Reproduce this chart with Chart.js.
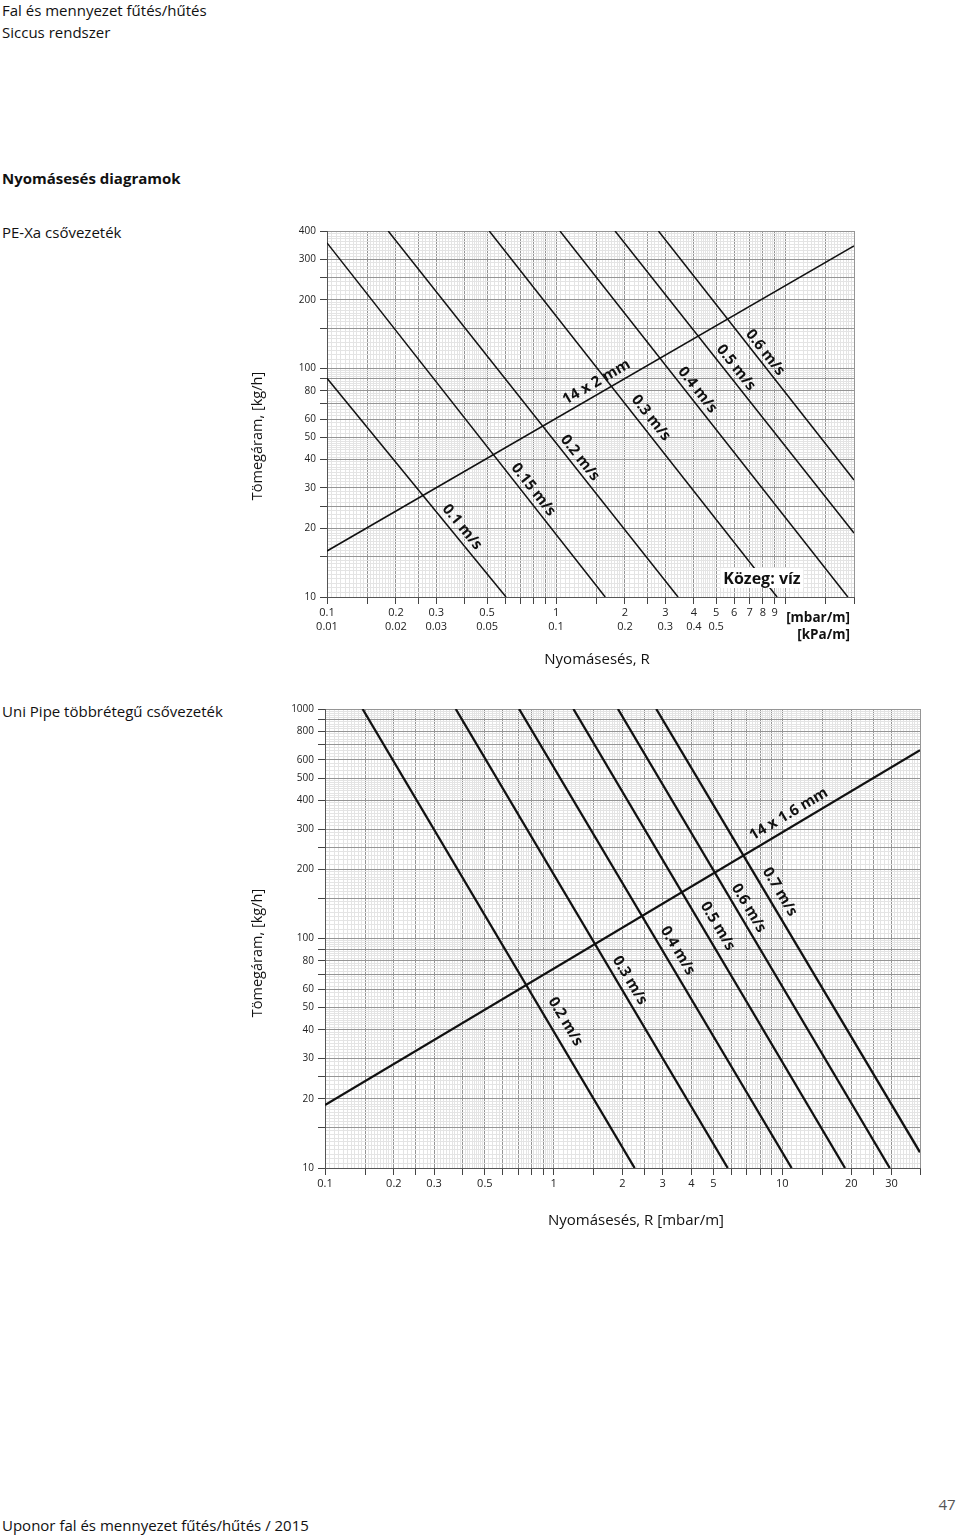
<!DOCTYPE html>
<html>
<head>
<meta charset="utf-8">
<script src="https://cdn.jsdelivr.net/npm/chart.js@4.4.1/dist/chart.umd.min.js"></script>
<style>
  body { margin: 0; background: #fff; font-family: "Open Sans", sans-serif; color: #111; }
  #page { position: relative; width: 960px; height: 1535px; overflow: hidden; }
  .t { position: absolute; white-space: nowrap; font-size: 15px; line-height: 20px; z-index: 2; }
  .c { transform: translate(-50%, -50%); }
  .b { font-weight: bold; }
  .rot { transform: translate(-50%, -50%) rotate(-90deg); }
  canvas { position: absolute; z-index: 1; }
</style>
</head>
<body>
<div id="page">
  <div class="t" style="left:2px;top:0px">Fal és mennyezet fűtés/hűtés</div>
  <div class="t" style="left:2px;top:22px">Siccus rendszer</div>
  <div class="t b" style="left:2px;top:168px">Nyomásesés diagramok</div>
  <div class="t" style="left:2px;top:222px">PE-Xa csővezeték</div>
  <div class="t rot" style="left:257px;top:436px;font-size:14.5px">Tömegáram, [kg/h]</div>
  <div class="t c" style="left:597px;top:658px">Nyomásesés, R</div>
  <div class="t c b" style="left:762px;top:578px;font-size:16px;background:#fff;padding:0 3px">Közeg: víz</div>
  <div class="t b" style="right:110px;top:607px;font-size:13.5px">[mbar/m]</div>
  <div class="t b" style="right:110px;top:624px;font-size:13.5px">[kPa/m]</div>

  <div class="t" style="left:2px;top:701px">Uni Pipe többrétegű csővezeték</div>
  <div class="t rot" style="left:257px;top:953px;font-size:14.5px">Tömegáram, [kg/h]</div>
  <div class="t c" style="left:636px;top:1219px">Nyomásesés, R [mbar/m]</div>

  <div class="t" style="left:2px;top:1515px">Uponor fal és mennyezet fűtés/hűtés / 2015</div>
  <div class="t c" style="left:947px;top:1504px;color:#555">47</div>

  <canvas id="peChart" width="620" height="460" style="left:260px;top:200px"></canvas>
  <canvas id="uniChart" width="680" height="520" style="left:260px;top:690px"></canvas>
</div>

<script>
// PE-Xa 14 x 2 mm: constant-velocity lines, given by their two end points (R in mbar/m, mass flow in kg/h)
const peVelocities = ['0.1 m/s', '0.15 m/s', '0.2 m/s', '0.3 m/s', '0.4 m/s', '0.5 m/s', '0.6 m/s'];
const peStartR = [0.1, 0.1, 0.185, 0.511, 1.04, 1.81, 2.80];
const peStartM = [90.6, 355, 400, 400, 400, 400, 400];
const peEndR = [0.605, 1.64, 3.41, 9.23, 18.8, 20, 20];
const peEndM = [10, 10, 10, 10, 10, 19.05, 32.5];
const pePipe = '14 x 2 mm';
const pePipeR = [0.1, 20];
const pePipeM = [15.9, 344];

const peXTicks = [0.1, 0.2, 0.3, 0.5, 1, 2, 3, 4, 5, 6, 7, 8, 9];
const peXLabels = ['0.1', '0.2', '0.3', '0.5', '1', '2', '3', '4', '5', '6', '7', '8', '9'];
const peXLabelsKpa = ['0.01', '0.02', '0.03', '0.05', '0.1', '0.2', '0.3', '0.4', '0.5', '', '', '', ''];
const peYTicks = [10, 20, 30, 40, 50, 60, 80, 100, 200, 300, 400];

// Uni Pipe 14 x 1.6 mm
const uniVelocities = ['0.2 m/s', '0.3 m/s', '0.4 m/s', '0.5 m/s', '0.6 m/s', '0.7 m/s'];
const uniStartR = [0.146, 0.373, 0.706, 1.22, 1.91, 2.81];
const uniStartM = [1000, 1000, 1000, 1000, 1000, 1000];
const uniEndR = [2.26, 5.77, 10.98, 18.8, 29.5, 40];
const uniEndM = [10, 10, 10, 10, 10, 11.7];
const uniPipe = '14 x 1.6 mm';
const uniPipeR = [0.1, 40];
const uniPipeM = [18.8, 662];

const uniXTicks = [0.1, 0.2, 0.3, 0.5, 1, 2, 3, 4, 5, 10, 20, 30];
const uniXLabels = ['0.1', '0.2', '0.3', '0.5', '1', '2', '3', '4', '5', '10', '20', '30'];
const uniYTicks = [10, 20, 30, 40, 50, 60, 80, 100, 200, 300, 400, 500, 600, 800, 1000];

// grid: darker lines at these multiples of each decade, light lines in between
const MAJOR = [1, 1.5, 2, 2.5, 3, 4, 5, 6, 7, 8, 9];

function fineSteps() {
  const out = [];
  for (let k = 1; k < 2 - 1e-9; k += 0.05) out.push(+k.toFixed(2));
  for (let k = 2; k < 5 - 1e-9; k += 0.1) out.push(+k.toFixed(2));
  for (let k = 5; k < 10 - 1e-9; k += 0.2) out.push(+k.toFixed(2));
  return out;
}
const FINE = fineSteps();

function gridValues(min, max) {
  const vals = [];
  let dec = Math.pow(10, Math.floor(Math.log10(min) + 1e-9));
  while (dec <= max * 1.0001) {
    FINE.forEach(k => {
      const v = +(dec * k).toPrecision(6);
      if (v >= min * 0.9999 && v <= max * 1.0001) vals.push(v);
    });
    dec *= 10;
  }
  return vals;
}

function isMajor(v) {
  const dec = Math.pow(10, Math.floor(Math.log10(v) + 1e-9));
  const k = v / dec;
  return MAJOR.some(m => Math.abs(m - k) < 1e-6);
}

function findIdx(list, v) {
  return list.findIndex(t => Math.abs(t - v) / t < 1e-6);
}

const lineLabels = {
  id: 'lineLabels',
  afterDatasetsDraw(chart, args, opts) {
    const ctx = chart.ctx;
    const xs = chart.scales.x, ys = chart.scales.y;
    ctx.save();
    ctx.font = opts.font;
    ctx.fillStyle = '#111';
    ctx.textAlign = 'center';
    ctx.textBaseline = 'middle';
    opts.items.forEach(it => {
      const d = chart.data.datasets[it.ds].data;
      const x0 = xs.getPixelForValue(d[0].x), y0 = ys.getPixelForValue(d[0].y);
      const x1 = xs.getPixelForValue(d[1].x), y1 = ys.getPixelForValue(d[1].y);
      const a = Math.atan2(y1 - y0, x1 - x0);
      const cx = x0 + it.t * (x1 - x0) + it.off * Math.sin(a);
      const cy = y0 + it.t * (y1 - y0) - it.off * Math.cos(a);
      ctx.save();
      ctx.translate(cx, cy);
      ctx.rotate(a);
      ctx.fillText(chart.data.datasets[it.ds].label, 0, 0);
      ctx.restore();
    });
    ctx.restore();
  }
};

function makeDatasets(names, r0, m0, r1, m1, pipe, pr, pm, width) {
  const ds = names.map((n, i) => ({
    label: n,
    data: [{ x: r0[i], y: m0[i] }, { x: r1[i], y: m1[i] }]
  }));
  ds.push({ label: pipe, data: [{ x: pr[0], y: pm[0] }, { x: pr[1], y: pm[1] }] });
  return ds.map(d => Object.assign(d, {
    showLine: true, borderColor: '#111', borderWidth: width, pointRadius: 0, fill: false
  }));
}

function logAxis(min, max, size, isX, labelFn) {
  return {
    type: 'logarithmic', min: min, max: max,
    afterBuildTicks: s => { s.ticks = gridValues(min, max).map(v => ({ value: v })); },
    afterFit: s => { if (isX) s.height = size; else s.width = size; },
    ticks: {
      autoSkip: false, maxRotation: 0, minRotation: 0,
      padding: isX ? 2 : 4,
      color: '#222',
      font: { family: 'Open Sans', size: isX ? 11 : 10, lineHeight: 1.25 },
      callback: v => labelFn(v)
    },
    grid: {
      color: c => isMajor(c.tick.value) ? '#959595' : '#e4e4e4',
      tickColor: c => isMajor(c.tick.value) ? '#444' : 'rgba(0,0,0,0)',
      tickLength: 7,
      lineWidth: 1
    },
    border: { color: '#555', width: 1 }
  };
}

Chart.defaults.font.family = 'Open Sans';

new Chart(document.getElementById('peChart'), {
  type: 'scatter',
  data: { datasets: makeDatasets(peVelocities, peStartR, peStartM, peEndR, peEndM, pePipe, pePipeR, pePipeM, 1.5) },
  options: {
    responsive: false, animation: false,
    layout: { padding: { top: 31, right: 26, bottom: 0, left: 0 } },
    plugins: {
      legend: { display: false }, tooltip: { enabled: false },
      lineLabels: {
        font: 'bold 15px "Open Sans"',
        items: [
          { ds: 0, t: 0.71, off: 10.3 }, { ds: 1, t: 0.714, off: 9.7 }, { ds: 2, t: 0.636, off: 9.4 },
          { ds: 3, t: 0.53, off: 11.5 }, { ds: 4, t: 0.451, off: 9.8 }, { ds: 5, t: 0.473, off: 10 },
          { ds: 6, t: 0.51, off: 8.8 }, { ds: 7, t: 0.522, off: 11.1 }
        ]
      }
    },
    scales: {
      x: logAxis(0.1, 20, 63, true, v => {
        const i = findIdx(peXTicks, v);
        if (i < 0) return '';
        return peXLabelsKpa[i] ? [peXLabels[i], peXLabelsKpa[i]] : peXLabels[i];
      }),
      y: logAxis(10, 400, 67, false, v => findIdx(peYTicks, v) < 0 ? '' : String(v))
    }
  },
  plugins: [lineLabels]
});

new Chart(document.getElementById('uniChart'), {
  type: 'scatter',
  data: { datasets: makeDatasets(uniVelocities, uniStartR, uniStartM, uniEndR, uniEndM, uniPipe, uniPipeR, uniPipeM, 2.3) },
  options: {
    responsive: false, animation: false,
    layout: { padding: { top: 19, right: 20, bottom: 0, left: 0 } },
    plugins: {
      legend: { display: false }, tooltip: { enabled: false },
      lineLabels: {
        font: 'bold 15px "Open Sans"',
        items: [
          { ds: 0, t: 0.698, off: 15 }, { ds: 1, t: 0.604, off: 11.3 }, { ds: 2, t: 0.541, off: 12.9 },
          { ds: 3, t: 0.488, off: 13.5 }, { ds: 4, t: 0.446, off: 11 }, { ds: 5, t: 0.427, off: 12.6 },
          { ds: 6, t: 0.79, off: 12.2 }
        ]
      }
    },
    scales: {
      x: logAxis(0.1, 40, 42, true, v => { const i = findIdx(uniXTicks, v); return i < 0 ? '' : uniXLabels[i]; }),
      y: logAxis(10, 1000, 65, false, v => findIdx(uniYTicks, v) < 0 ? '' : String(v))
    }
  },
  plugins: [lineLabels]
});
</script>
</body>
</html>
